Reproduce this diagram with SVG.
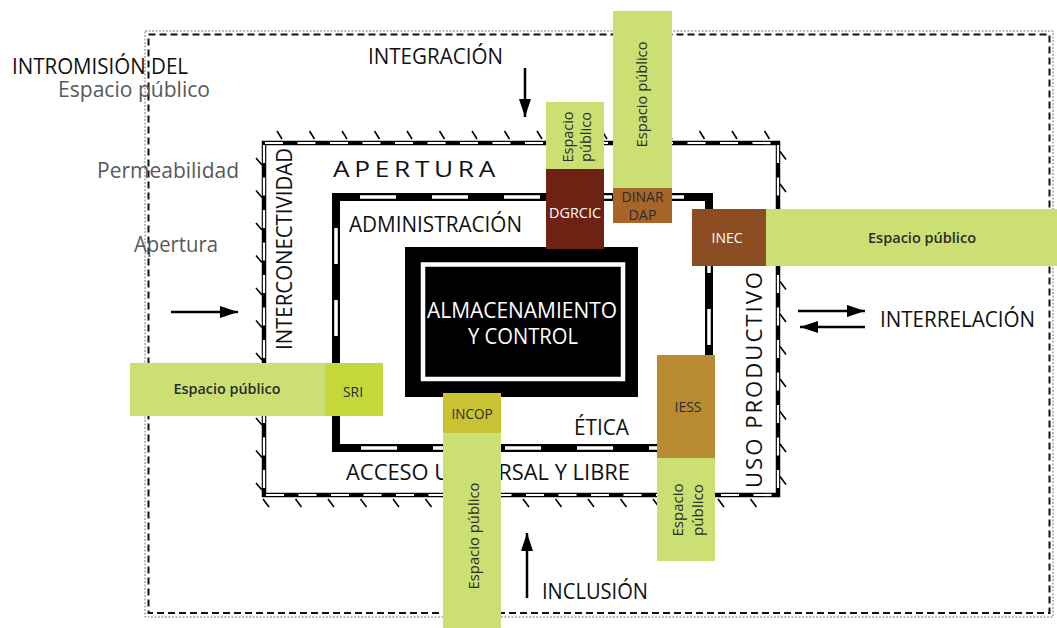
<svg xmlns="http://www.w3.org/2000/svg" width="1057" height="628" viewBox="0 0 1057 628">
<style>
.t{font-family:'Open Sans','Noto Sans','Liberation Sans',sans-serif;font-size:22.5px;fill:#111}
.g{fill:#58595b;font-size:22px}
.s{font-family:'Open Sans','Noto Sans','Liberation Sans',sans-serif;font-size:15px;fill:#2b2b2b}
.b{font-family:'Open Sans','Noto Sans','Liberation Sans',sans-serif;font-size:14.5px;fill:#2b2b2b;text-anchor:middle}
.w{fill:#ffffff}
.esp{fill:#cbdf72}
.tick{stroke:#000;stroke-width:1.6;fill:none}
.arrow{stroke:#000;stroke-width:2.5;fill:none;marker-end:url(#ah)}
</style>
<defs>
<marker id="ah" markerWidth="18" markerHeight="12" refX="18" refY="6" orient="auto" markerUnits="userSpaceOnUse">
<path d="M0,0 L18,6 L0,12 z" fill="#000"/>
</marker>
</defs>
<rect x="0" y="0" width="1057" height="628" fill="#fff"/>

<g id="outer-frame">
<rect x="145" y="31" width="908" height="586" fill="none" stroke="#777" stroke-width="1" stroke-dasharray="2 1.5"/>
<rect x="148.5" y="34.5" width="901" height="578.5" fill="none" stroke="#111" stroke-width="2" stroke-dasharray="7 4"/>
</g>

<g id="outside-labels">
<text class="t" x="12" y="74" textLength="176" lengthAdjust="spacingAndGlyphs">INTROMISIÓN DEL</text>
<text class="t g" x="58" y="97" textLength="152" lengthAdjust="spacingAndGlyphs">Espacio público</text>
<text class="t g" x="97" y="178" textLength="142" lengthAdjust="spacingAndGlyphs">Permeabilidad</text>
<text class="t g" x="134" y="252" textLength="84" lengthAdjust="spacingAndGlyphs">Apertura</text>
<text class="t" x="368" y="64" textLength="135" lengthAdjust="spacingAndGlyphs">INTEGRACIÓN</text>
<text class="t" x="880" y="327" textLength="155" lengthAdjust="spacingAndGlyphs">INTERRELACIÓN</text>
<text class="t" x="542" y="599" textLength="106" lengthAdjust="spacingAndGlyphs">INCLUSIÓN</text>
</g>

<g id="interconectividad-box">
<rect x="264" y="143" width="514" height="352" fill="none" stroke="#000" stroke-width="4.5"/>
<g stroke="#fff" stroke-width="2.2" stroke-dasharray="18 14.5">
<line x1="265" y1="143" x2="776" y2="143"/>
<line x1="264" y1="145" x2="264" y2="493"/>
<line x1="266" y1="495" x2="776" y2="495"/>
<line x1="778" y1="145" x2="778" y2="493"/>
</g>
<path class="tick" d="M277 131l5 8M309.5 131l5 8M342 131l5 8M374.5 131l5 8M407 131l5 8M439.5 131l5 8M472 131l5 8M504.5 131l5 8M537 131l5 8M569.5 131l5 8M602 131l5 8M634.5 131l5 8M667 131l5 8M699.5 131l5 8M732 131l5 8M764.5 131l5 8"/>
<path class="tick" d="M256 158l6 7M256 190.5l6 7M256 223l6 7M256 255.5l6 7M256 288l6 7M256 320.5l6 7M256 353l6 7M256 385.5l6 7M256 418l6 7M256 450.5l6 7M256 483l6 7"/>
<path class="tick" d="M263 499l6 8M295.5 499l6 8M328 499l6 8M360.5 499l6 8M393 499l6 8M425.5 499l6 8M458 499l6 8M490.5 499l6 8M523 499l6 8M555.5 499l6 8M588 499l6 8M620.5 499l6 8M653 499l6 8M685.5 499l6 8M718 499l6 8M750.5 499l6 8"/>
<path class="tick" d="M780 151.5l6 8M780 184l6 8M780 216.5l6 8M780 249l6 8M780 281.5l6 8M780 314l6 8M780 346.5l6 8M780 379l6 8M780 411.5l6 8M780 444l6 8M780 476.5l6 8"/>
<text class="t" transform="translate(292,249) rotate(-90)" text-anchor="middle" textLength="202" lengthAdjust="spacingAndGlyphs">INTERCONECTIVIDAD</text>
<text class="t" transform="translate(762,379) rotate(-90)" text-anchor="middle" style="letter-spacing:2px" textLength="218" lengthAdjust="spacingAndGlyphs">USO PRODUCTIVO</text>
<text class="t" x="333" y="177" style="letter-spacing:4px" textLength="167" lengthAdjust="spacingAndGlyphs">APERTURA</text>
<text class="t" x="346" y="480" textLength="284" lengthAdjust="spacingAndGlyphs">ACCESO UNIVERSAL Y LIBRE</text>
</g>

<g id="administracion-box">
<rect x="336" y="197" width="373" height="251" fill="none" stroke="#000" stroke-width="8"/>
<g stroke="#fff" stroke-width="3.5" stroke-dasharray="36 36">
<line x1="336" y1="197" x2="709" y2="197" stroke-dashoffset="48"/>
<line x1="336" y1="197" x2="336" y2="440" stroke-dashoffset="41"/>
<line x1="340" y1="448" x2="705" y2="448" stroke-dashoffset="51"/>
<line x1="709" y1="201" x2="709" y2="444" stroke-dashoffset="36"/>
</g>
<text class="t" x="349" y="232" textLength="173" lengthAdjust="spacingAndGlyphs">ADMINISTRACIÓN</text>
<text class="t" x="574" y="435" textLength="55" lengthAdjust="spacingAndGlyphs">ÉTICA</text>
</g>

<g id="almacenamiento">
<rect x="405" y="247" width="233" height="150" fill="#000"/>
<rect x="423" y="264.5" width="200" height="114.5" fill="none" stroke="#fff" stroke-width="4.5"/>
<text class="t w" x="522" y="318" text-anchor="middle" textLength="190" lengthAdjust="spacingAndGlyphs">ALMACENAMIENTO</text>
<text class="t w" x="523" y="344" text-anchor="middle" textLength="110" lengthAdjust="spacingAndGlyphs">Y CONTROL</text>
</g>

<g id="dgrcic">
<rect class="esp" x="546" y="102" width="58" height="67"/>
<text class="s" transform="translate(573,137) rotate(-90)" text-anchor="middle" textLength="51" lengthAdjust="spacingAndGlyphs">Espacio</text>
<text class="s" transform="translate(591,137) rotate(-90)" text-anchor="middle" textLength="50" lengthAdjust="spacingAndGlyphs">público</text>
<rect x="546" y="169" width="58" height="80" fill="#6e2214"/>
<text class="b w" x="575" y="218" textLength="52" lengthAdjust="spacingAndGlyphs">DGRCIC</text>
</g>

<g id="dinar-dap">
<rect class="esp" x="613" y="11" width="59" height="177"/>
<text class="s" transform="translate(647,94.5) rotate(-90)" text-anchor="middle" textLength="106" lengthAdjust="spacingAndGlyphs">Espacio público</text>
<rect x="613" y="188" width="59" height="35" fill="#a8652a"/>
<text class="b" x="642.5" y="202" textLength="42" lengthAdjust="spacingAndGlyphs">DINAR</text>
<text class="b" x="642.5" y="220" textLength="28" lengthAdjust="spacingAndGlyphs">DAP</text>
</g>

<g id="inec">
<rect x="692" y="209" width="74" height="57" fill="#8b4d21"/>
<text class="b w" x="727" y="243" textLength="31" lengthAdjust="spacingAndGlyphs">INEC</text>
<rect class="esp" x="766" y="209" width="291" height="57"/>
<text class="s" x="922" y="243" text-anchor="middle" font-weight="600" textLength="108" lengthAdjust="spacingAndGlyphs">Espacio público</text>
</g>

<g id="sri">
<rect class="esp" x="130" y="363" width="195" height="53"/>
<text class="s" x="227" y="394" text-anchor="middle" font-weight="600" textLength="107" lengthAdjust="spacingAndGlyphs">Espacio público</text>
<rect x="325" y="363" width="58" height="53" fill="#c4d83a"/>
<text class="b" x="353" y="397" textLength="20" lengthAdjust="spacingAndGlyphs">SRI</text>
</g>

<g id="incop">
<rect x="443" y="393" width="58" height="40" fill="#c9c232"/>
<text class="b" x="472" y="419" textLength="41" lengthAdjust="spacingAndGlyphs">INCOP</text>
<rect class="esp" x="443" y="433" width="58" height="195"/>
<text class="s" transform="translate(479,536) rotate(-90)" text-anchor="middle" textLength="107" lengthAdjust="spacingAndGlyphs">Espacio público</text>
</g>

<g id="iess">
<rect x="657" y="355" width="58" height="103" fill="#b98b31"/>
<text class="b" x="688" y="412" textLength="27" lengthAdjust="spacingAndGlyphs">IESS</text>
<rect class="esp" x="657" y="458" width="58" height="103"/>
<text class="s" transform="translate(683,510) rotate(-90)" text-anchor="middle" textLength="53" lengthAdjust="spacingAndGlyphs">Espacio</text>
<text class="s" transform="translate(703,510) rotate(-90)" text-anchor="middle" textLength="52" lengthAdjust="spacingAndGlyphs">público</text>
</g>

<g id="connectors">
<line class="arrow" x1="171" y1="312" x2="238" y2="312"/>
<line class="arrow" x1="525" y1="68" x2="525" y2="117"/>
<line class="arrow" x1="527" y1="598" x2="527" y2="533"/>
<line class="arrow" x1="798" y1="311" x2="865" y2="311"/>
<line class="arrow" x1="865" y1="327" x2="800" y2="327"/>
</g>
</svg>
